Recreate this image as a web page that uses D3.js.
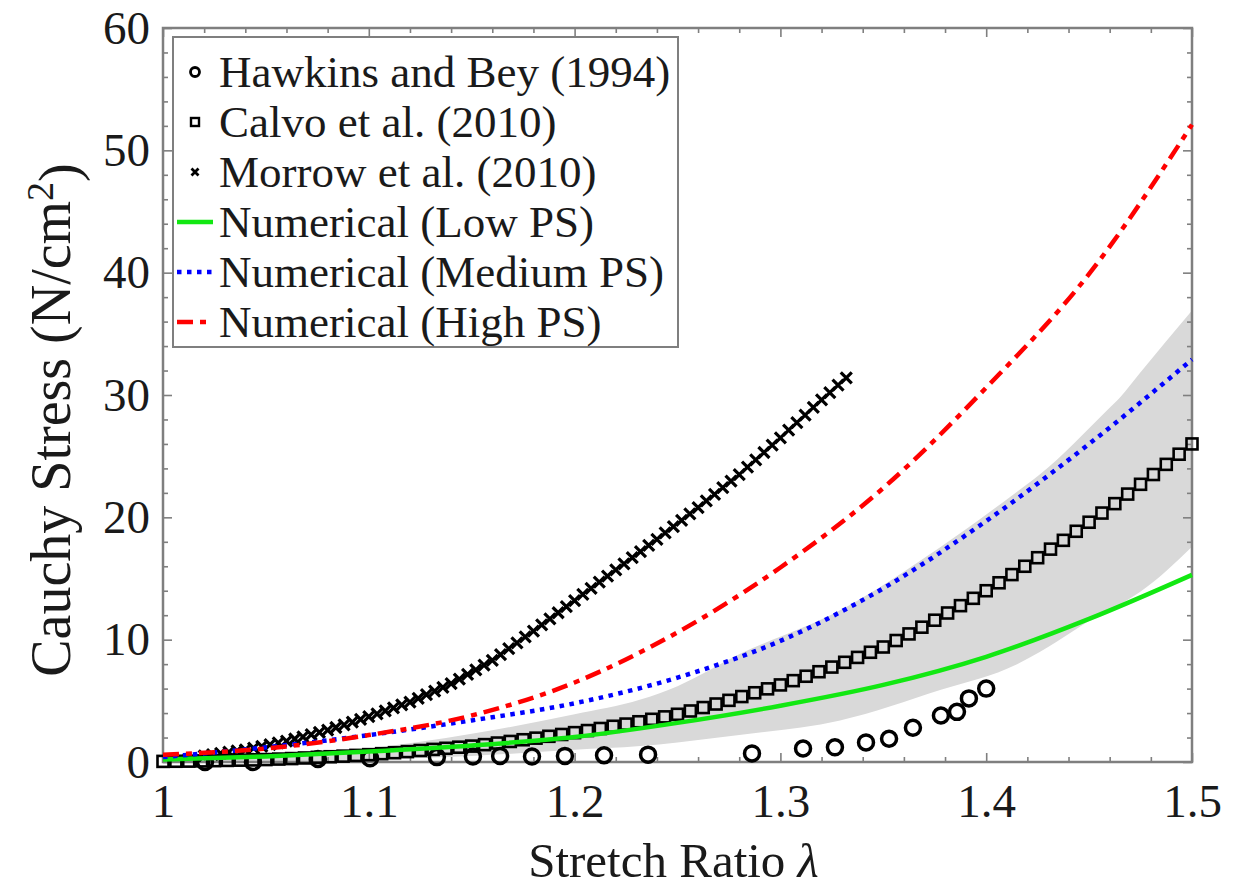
<!DOCTYPE html>
<html><head><meta charset="utf-8">
<script src="https://cdn.jsdelivr.net/npm/d3@7"></script>
<style>
body{margin:0;background:#fff}
svg{display:block}
text{font-family:"Liberation Serif","Times New Roman",serif;fill:#1a1a1a}
</style>
</head><body>
<svg id="c" width="1238" height="888"></svg>
<script>
const xTickValues = [1.0, 1.1, 1.2, 1.3, 1.4, 1.5];
const xTickLabels = ["1", "1.1", "1.2", "1.3", "1.4", "1.5"];
const yTickValues = [0, 10, 20, 30, 40, 50, 60];
const yTickLabels = ["0", "10", "20", "30", "40", "50", "60"];

const legendLabels = ["Hawkins and Bey (1994)", "Calvo et al. (2010)", "Morrow et al. (2010)",
  "Numerical (Low PS)", "Numerical (Medium PS)", "Numerical (High PS)"];

const hawkinsLambda = [1.0204, 1.0437, 1.0753, 1.1006, 1.1331, 1.1506, 1.1638, 1.1793, 1.1953, 1.2143, 1.2357,
  1.2862, 1.3110, 1.3265, 1.3416, 1.3528, 1.3644, 1.3780, 1.3858, 1.3916, 1.4000];
const hawkinsStress = [0, 0, 0.25, 0.3, 0.4, 0.45, 0.5, 0.45, 0.5, 0.55, 0.6,
  0.7, 1.1, 1.2, 1.6, 1.9, 2.8, 3.8, 4.1, 5.2, 6.0];

const calvoLambda = [1, 1.00625, 1.0125, 1.01875, 1.025, 1.03125, 1.0375, 1.04375, 1.05, 1.05625, 1.0625, 1.06875,
  1.075, 1.08125, 1.0875, 1.09375, 1.1, 1.10625, 1.1125, 1.11875, 1.125, 1.13125, 1.1375, 1.14375, 1.15, 1.15625,
  1.1625, 1.16875, 1.175, 1.18125, 1.1875, 1.19375, 1.2, 1.20625, 1.2125, 1.21875, 1.225, 1.23125, 1.2375, 1.24375,
  1.25, 1.25625, 1.2625, 1.26875, 1.275, 1.28125, 1.2875, 1.29375, 1.3, 1.30625, 1.3125, 1.31875, 1.325, 1.33125,
  1.3375, 1.34375, 1.35, 1.35625, 1.3625, 1.36875, 1.375, 1.38125, 1.3875, 1.39375, 1.4, 1.40625, 1.4125, 1.41875,
  1.425, 1.43125, 1.4375, 1.44375, 1.45, 1.45625, 1.4625, 1.46875, 1.475, 1.48125, 1.4875, 1.49375, 1.5];
const calvoStress = [0.05, 0.06, 0.07, 0.09, 0.11, 0.13, 0.15, 0.17,
  0.2, 0.24, 0.28, 0.33, 0.38, 0.43, 0.48, 0.54,
  0.6, 0.68, 0.76, 0.85, 0.94, 1.03, 1.12, 1.21,
  1.3, 1.42, 1.55, 1.68, 1.82, 1.95, 2.1, 2.25,
  2.4, 2.57, 2.74, 2.92, 3.1, 3.29, 3.49, 3.69,
  3.9, 4.17, 4.45, 4.74, 5.04, 5.35, 5.66, 5.98,
  6.3, 6.65, 7.01, 7.38, 7.76, 8.15, 8.55, 8.97,
  9.4, 9.93, 10.47, 11.02, 11.59, 12.18, 12.78, 13.38,
  14.0, 14.65, 15.32, 16.0, 16.7, 17.4, 18.12, 18.86,
  19.6, 20.35, 21.12, 21.9, 22.7, 23.5, 24.33, 25.16,
  26.0];

const bandLambda = [1.0, 1.05, 1.1, 1.15, 1.2, 1.232, 1.25, 1.28, 1.329, 1.378, 1.415, 1.426, 1.459, 1.465, 1.4747, 1.5];
const bandUpper  = [0.05, 0.35, 1.1, 2.3, 3.9, 5.1, 6.2, 8.8, 12.4, 17.6, 22.1, 23.5, 28.8, 29.8, 31.8, 36.9];
const bandLower  = [0, 0.05, 0.2, 0.5, 1.0, 1.3, 1.6, 2.2, 3.4, 5.9, 8.0, 9.0, 12.4, 12.9, 13.9, 17.6];

const morrowLambda = [1.020, 1.024, 1.028, 1.032, 1.036, 1.040, 1.044, 1.048, 1.052, 1.056, 1.060, 1.064, 1.068,
  1.072, 1.076, 1.080, 1.084, 1.088, 1.092, 1.096, 1.100, 1.104, 1.108, 1.112, 1.116, 1.120, 1.124, 1.128, 1.132,
  1.136, 1.140, 1.144, 1.148, 1.152, 1.156, 1.160, 1.164, 1.168, 1.172, 1.176, 1.180, 1.184, 1.188, 1.192, 1.196,
  1.200, 1.204, 1.208, 1.212, 1.216, 1.220, 1.224, 1.228, 1.232, 1.236, 1.240, 1.244, 1.248, 1.252, 1.256, 1.260,
  1.264, 1.268, 1.272, 1.276, 1.280, 1.284, 1.288, 1.292, 1.296, 1.300, 1.304, 1.308, 1.312, 1.316, 1.320, 1.324,
  1.328, 1.332];
const morrowStress = [0.50, 0.60, 0.70, 0.80, 0.90, 1.00, 1.14, 1.28, 1.42, 1.56, 1.70, 1.88, 2.06,
  2.24, 2.42, 2.60, 2.82, 3.04, 3.26, 3.48, 3.70, 3.94, 4.18, 4.42, 4.66, 4.90, 5.20, 5.50, 5.80,
  6.10, 6.40, 6.78, 7.16, 7.54, 7.92, 8.30, 8.78, 9.26, 9.74, 10.22, 10.70, 11.20, 11.70, 12.20, 12.70,
  13.20, 13.70, 14.20, 14.70, 15.20, 15.70, 16.20, 16.70, 17.20, 17.70, 18.20, 18.72, 19.24, 19.76, 20.28, 20.80,
  21.34, 21.88, 22.42, 22.96, 23.50, 24.10, 24.70, 25.30, 25.90, 26.50, 27.12, 27.74, 28.36, 28.98, 29.60, 30.20,
  30.80, 31.40];

const numLambda = [1.0, 1.05, 1.1, 1.15, 1.2, 1.25, 1.3, 1.35, 1.4, 1.45, 1.5];
const lowPS    = [0.2, 0.45, 0.85, 1.35, 2.05, 3.2, 4.6, 6.3, 8.6, 11.7, 15.3];
const mediumPS = [0.4, 1.2, 2.2, 3.4, 4.8, 6.9, 9.9, 14.2, 19.7, 26.0, 32.9];
const highPS   = [0.6, 1.1, 2.2, 3.8, 6.5, 10.6, 15.9, 22.4, 30.6, 39.9, 52.1];

const svg = d3.select("#c");
const L = 163, R = 1192, T = 28, B = 762;
const x = d3.scaleLinear().domain([1, 1.5]).range([L, R]);
const y = d3.scaleLinear().domain([0, 60]).range([B, T]);
const frameColor = "#7f7f7f";

// band
const zip = (a, b) => a.map((v, i) => [v, b[i]]);
svg.append("path")
  .datum(bandLambda.map((l, i) => ({l, u: bandUpper[i], d: bandLower[i]})))
  .attr("fill", "#d9d9d9")
  .attr("d", d3.area().x(d => x(d.l)).y0(d => y(d.d)).y1(d => y(d.u)).curve(d3.curveMonotoneX));

// axes ticks
function styleAxis(g) {
  g.select(".domain").remove();
  g.selectAll(".tick line").attr("stroke", frameColor).attr("stroke-width", 1.6);
}
const minorX = x.ticks(25).filter(v => !xTickValues.some(t => Math.abs(t - v) < 1e-9));
const minorY = y.ticks(30).filter(v => !yTickValues.some(t => Math.abs(t - v) < 1e-9));

svg.append("g").attr("transform", `translate(0,${B})`)
  .call(d3.axisBottom(x).tickValues(minorX).tickSize(-5).tickFormat("")).call(styleAxis);
svg.append("g").attr("transform", `translate(0,${T})`)
  .call(d3.axisTop(x).tickValues(minorX).tickSize(-5).tickFormat("")).call(styleAxis);
svg.append("g").attr("transform", `translate(${L},0)`)
  .call(d3.axisLeft(y).tickValues(minorY).tickSize(-5).tickFormat("")).call(styleAxis);
svg.append("g").attr("transform", `translate(${R},0)`)
  .call(d3.axisRight(y).tickValues(minorY).tickSize(-5).tickFormat("")).call(styleAxis);

const xAx = svg.append("g").attr("transform", `translate(0,${B})`)
  .call(d3.axisBottom(x).tickValues(xTickValues).tickSize(-9).tickPadding(22)
    .tickFormat((d, i) => xTickLabels[i])).call(styleAxis);
svg.append("g").attr("transform", `translate(0,${T})`)
  .call(d3.axisTop(x).tickValues(xTickValues).tickSize(-9).tickFormat("")).call(styleAxis);
const yAx = svg.append("g").attr("transform", `translate(${L},0)`)
  .call(d3.axisLeft(y).tickValues(yTickValues).tickSize(-9).tickPadding(13)
    .tickFormat((d, i) => yTickLabels[i])).call(styleAxis);
svg.append("g").attr("transform", `translate(${R},0)`)
  .call(d3.axisRight(y).tickValues(yTickValues).tickSize(-9).tickFormat("")).call(styleAxis);
[xAx, yAx].forEach(g => g.selectAll(".tick text")
  .attr("font-family", '"Liberation Serif", serif').attr("font-size", 47).attr("fill", "#1a1a1a"));

// frame
svg.append("rect").attr("x", L).attr("y", T).attr("width", R - L).attr("height", B - T)
  .attr("fill", "none").attr("stroke", frameColor).attr("stroke-width", 2.5);

// markers
function circleM(g, cx, cy, r, sw) {
  g.append("circle").attr("cx", cx).attr("cy", cy).attr("r", r)
    .attr("fill", "none").attr("stroke", "#000").attr("stroke-width", sw);
}
function squareM(g, cx, cy, s, sw) {
  g.append("rect").attr("x", cx - s / 2).attr("y", cy - s / 2).attr("width", s).attr("height", s)
    .attr("fill", "none").attr("stroke", "#000").attr("stroke-width", sw);
}
function crossM(g, cx, cy, s, sw) {
  g.append("path").attr("d", `M${cx - s / 2},${cy - s / 2}L${cx + s / 2},${cy + s / 2}M${cx - s / 2},${cy + s / 2}L${cx + s / 2},${cy - s / 2}`)
    .attr("stroke", "#000").attr("stroke-width", sw).attr("fill", "none");
}

const gH = svg.append("g");
hawkinsLambda.forEach((l, i) => circleM(gH, x(l), y(hawkinsStress[i]), 7.5, 3.5));
const gC = svg.append("g");
calvoLambda.forEach((l, i) => squareM(gC, x(l), y(calvoStress[i]), 11, 2.6));
const gM = svg.append("g");
morrowLambda.forEach((l, i) => crossM(gM, x(morrowLambda[i]), y(morrowStress[i]), 11, 3.2));

// numerical lines
const line = d3.line().x(d => x(d[0])).y(d => y(d[1])).curve(d3.curveMonotoneX);
const styles = [
  {data: lowPS, color: "#12e812", w: 4.5, dash: null},
  {data: mediumPS, color: "#0000ff", w: 4.5, dash: "4.5 5.5"},
  {data: highPS, color: "#ff0000", w: 4.5, dash: "16 7 6 7"}
];
styles.forEach(s => {
  svg.append("path").datum(zip(numLambda, s.data)).attr("d", line)
    .attr("fill", "none").attr("stroke", s.color).attr("stroke-width", s.w)
    .attr("stroke-dasharray", s.dash);
});

// legend
const lg = svg.append("g");
lg.append("rect").attr("x", 173).attr("y", 37).attr("width", 505).attr("height", 310)
  .attr("fill", "#fff").attr("stroke", frameColor).attr("stroke-width", 2);
const rowY = i => 72 + i * 50;
circleM(lg, 195, rowY(0), 4.5, 2.8);
squareM(lg, 195, rowY(1), 8, 2.4);
crossM(lg, 195, rowY(2), 7, 2.8);
styles.forEach((s, k) => {
  lg.append("line").attr("x1", 177).attr("x2", 213).attr("y1", rowY(3 + k)).attr("y2", rowY(3 + k))
    .attr("stroke", s.color).attr("stroke-width", s.w).attr("stroke-dasharray", s.dash);
});
legendLabels.forEach((t, i) => {
  lg.append("text").attr("x", 219).attr("y", rowY(i)).attr("dy", "0.33em")
    .attr("font-size", 45).text(t);
});

// axis titles
const xt = svg.append("text").attr("x", (L + R) / 2 - 4).attr("y", 877).attr("text-anchor", "middle").attr("font-size", 49);
xt.append("tspan").text("Stretch Ratio ");
xt.append("tspan").attr("font-style", "italic").text("λ");

const yt = svg.append("text").attr("transform", `translate(70,420) rotate(-90)`)
  .attr("text-anchor", "middle").attr("font-size", 56);
yt.append("tspan").text("Cauchy Stress (N/cm");
yt.append("tspan").attr("dy", "-0.45em").attr("font-size", 38).text("2");
yt.append("tspan").attr("dy", "0.45em").text(")");
</script>
</body></html>
